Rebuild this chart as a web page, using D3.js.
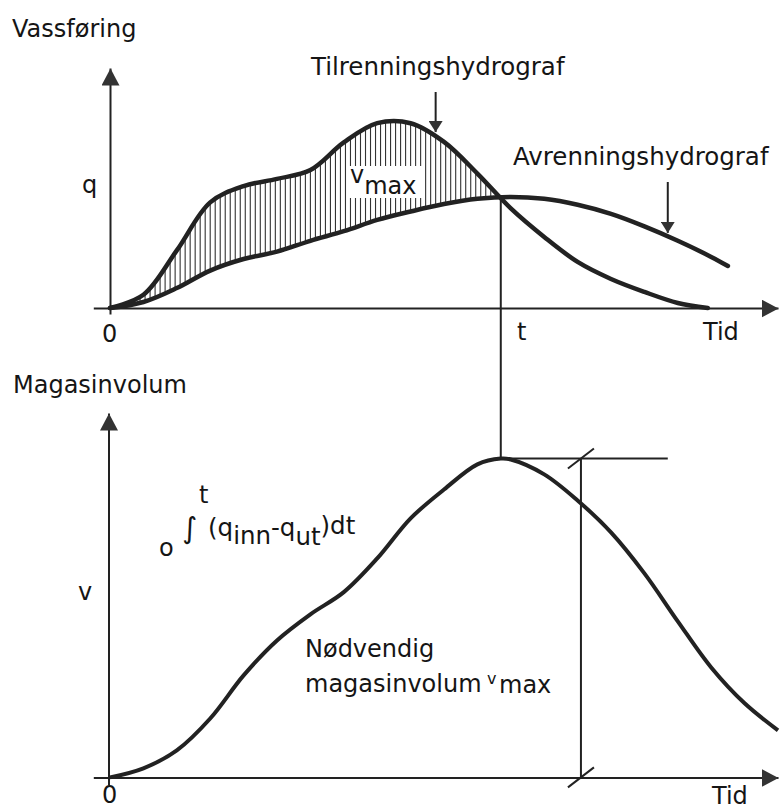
<!DOCTYPE html>
<html>
<head>
<meta charset="utf-8">
<script src="https://cdn.jsdelivr.net/npm/d3@7"></script>
<style>
  body { margin: 0; background: #fff; }
  text { font-family: "DejaVu Sans", sans-serif; fill: #151515; font-size: 24px; }
</style>
</head>
<body>
<div id="chart"></div>
<script>
// time grid (arbitrary units) and readings
var inflowTime = [0, 1, 2, 3, 4, 5, 6, 7, 8, 9, 10, 11, 12, 13, 14, 15, 16, 17, 17.9];
var inflowQ = [0, 0.55, 2.4, 4.4, 5.08, 5.38, 5.75, 6.9, 7.7, 7.7, 6.92, 5.6, 4.15, 2.96, 1.92, 1.21, 0.67, 0.21, 0];

var outflowTime = [0, 1, 2, 3, 4, 5, 6, 7, 8, 9, 10, 11, 12, 13, 14, 15, 16, 17, 18, 18.5];
var outflowQ = [0, 0.25, 0.83, 1.56, 2.04, 2.35, 2.8, 3.2, 3.67, 4.02, 4.33, 4.55, 4.63, 4.55, 4.3, 3.92, 3.4, 2.8, 2.13, 1.75];

var storageTime = [0, 1, 2, 3, 4, 5, 6, 7, 8, 9, 10, 11, 11.7, 12, 13, 14, 15, 16, 17, 18, 19, 20];
var storageV = [0, 0.3, 0.89, 1.94, 3.36, 4.51, 5.37, 6.1, 7.21, 8.53, 9.48, 10.31, 10.5, 10.47, 9.98, 9.12, 8.07, 6.72, 5.14, 3.62, 2.44, 1.55];

var tPeak = 11.7;      // time where inflow = outflow
var vPeak = 10.5;      // required storage
var tDim = 14.1;       // dimension line
var tRef = 16.7;       // end of reference line
var arrowIn = {t: 9.75, from: 9.0, to: 7.33};
var arrowOut = {t: 16.7, from: 5.25, to: 3.13};

var svgWidth = 781;
var svgHeight = 811;

var svg = d3.select("#chart")
  .append("svg")
  .attr("width", svgWidth)
  .attr("height", svgHeight);

var ink = "#222";

// scales
var x = d3.scaleLinear().domain([-0.5, 20]).range([93.3, 778]);
var q = d3.scaleLinear().domain([-0.25, 10]).range([314, 68]);
var v = d3.scaleLinear().domain([-0.25, 12]).range([785, 413]);

var inflow = inflowTime.map((t, i) => ({t: t, y: inflowQ[i]}));
var outflow = outflowTime.map((t, i) => ({t: t, y: outflowQ[i]}));
var storage = storageTime.map((t, i) => ({t: t, y: storageV[i]}));

// markers
var defs = svg.append("defs");
function marker(id, len, wid) {
  defs.append("marker")
    .attr("id", id)
    .attr("viewBox", `0 0 ${len} ${wid}`)
    .attr("refX", len).attr("refY", wid / 2)
    .attr("markerWidth", len).attr("markerHeight", wid)
    .attr("markerUnits", "userSpaceOnUse")
    .attr("orient", "auto")
    .append("path")
    .attr("d", `M0,0L${len},${wid / 2}L0,${wid}Z`)
    .attr("fill", "#333");
}
marker("bigArrow", 17, 18);
marker("smallArrow", 11, 14);

// axes
function drawAxis(g, axis) {
  g.call(axis);
  g.select(".domain")
    .attr("stroke", ink)
    .attr("stroke-width", 2)
    .attr("marker-end", "url(#bigArrow)");
}
drawAxis(svg.append("g").attr("transform", `translate(0, ${q(0)})`),
  d3.axisBottom(x).tickValues([]).tickSizeOuter(0));
drawAxis(svg.append("g").attr("transform", `translate(${x(0)}, 0)`),
  d3.axisLeft(q).tickValues([]).tickSizeOuter(0));
drawAxis(svg.append("g").attr("transform", `translate(0, ${v(0)})`),
  d3.axisBottom(x).tickValues([]).tickSizeOuter(0));
drawAxis(svg.append("g").attr("transform", `translate(${x(0) - 1.5}, 0)`),
  d3.axisLeft(v).tickValues([]).tickSizeOuter(0));

// hatching between the hydrographs
var areaQ = d3.area()
  .x(d => x(d.t)).y0(q(0)).y1(d => q(d.y))
  .curve(d3.curveCatmullRom);

defs.append("clipPath").attr("id", "between")
  .append("path")
  .attr("clip-rule", "evenodd")
  .attr("d", areaQ(inflow) + areaQ(outflow));

svg.append("g")
  .attr("clip-path", "url(#between)")
  .selectAll("line")
  .data(d3.range(0.15, tPeak, 0.15))
  .enter()
  .append("line")
  .attr("x1", d => x(d)).attr("x2", d => x(d))
  .attr("y1", q(0)).attr("y2", q(9))
  .attr("stroke", "#333")
  .attr("stroke-width", 1.1);

// white box behind v_max
svg.append("rect")
  .attr("x", 347).attr("y", 166)
  .attr("width", 75).attr("height", 32)
  .attr("fill", "#fff");

// curves
var lineQ = d3.line().x(d => x(d.t)).y(d => q(d.y)).curve(d3.curveCatmullRom);
var lineV = d3.line().x(d => x(d.t)).y(d => v(d.y)).curve(d3.curveCatmullRom);

[inflow, outflow].forEach(function(s) {
  svg.append("path")
    .attr("d", lineQ(s))
    .attr("fill", "none")
    .attr("stroke", ink)
    .attr("stroke-width", 4.5)
    .attr("stroke-linecap", "round");
});

svg.append("path")
  .attr("d", lineV(storage))
  .attr("fill", "none")
  .attr("stroke", ink)
  .attr("stroke-width", 4);

// construction lines
svg.append("line")
  .attr("x1", x(tPeak)).attr("x2", x(tPeak))
  .attr("y1", q(4.63)).attr("y2", v(vPeak))
  .attr("stroke", ink).attr("stroke-width", 2);

svg.append("line")
  .attr("x1", x(tPeak)).attr("x2", x(tRef))
  .attr("y1", v(vPeak)).attr("y2", v(vPeak))
  .attr("stroke", ink).attr("stroke-width", 2);

svg.append("line")
  .attr("x1", x(tDim)).attr("x2", x(tDim))
  .attr("y1", v(vPeak)).attr("y2", v(0))
  .attr("stroke", ink).attr("stroke-width", 2);

[vPeak, 0].forEach(function(val) {
  svg.append("line")
    .attr("x1", x(tDim) - 13).attr("y1", v(val) + 10)
    .attr("x2", x(tDim) + 13).attr("y2", v(val) - 10)
    .attr("stroke", ink).attr("stroke-width", 2);
});

// label arrows
[arrowIn, arrowOut].forEach(function(a) {
  svg.append("line")
    .attr("x1", x(a.t)).attr("x2", x(a.t))
    .attr("y1", q(a.from)).attr("y2", q(a.to))
    .attr("stroke", ink).attr("stroke-width", 2)
    .attr("marker-end", "url(#smallArrow)");
});

// texts
function label(txt, px, py, size) {
  var t = svg.append("text").attr("x", px).attr("y", py).text(txt);
  if (size) t.style("font-size", size + "px");
  return t;
}
label("Vassføring", 12, 37);
label("Tilrenningshydrograf", 311, 75).style("font-size", "24.5px");
label("Avrenningshydrograf", 513, 165).style("font-size", "24.5px");
label("q", 82, 193);
label("0", 102, 342);
label("t", 517, 340);
label("Tid", 703, 340);
label("Magasinvolum", 13, 393);
label("v", 78, 600);
label("0", 102, 803);
label("Tid", 712, 804);
label("Nødvendig", 305, 657);
label("magasinvolum", 305, 692);
label("v", 487, 684, 16);
label("max", 499, 693);

// v_max in the hatched area
var vm = svg.append("text").attr("x", 350).attr("y", 194);
vm.append("tspan").attr("dy", -11).text("v");
vm.append("tspan").attr("dy", 11).text("max");

// integral expression
label("t", 199, 503);
label("o", 159, 556);
label("\u222B", 182, 538, 29);
var integ = svg.append("text").attr("x", 208).attr("y", 536).style("font-size", "24.5px");
integ.append("tspan").text("(q");
integ.append("tspan").attr("dy", 8).text("inn");
integ.append("tspan").attr("dy", -8).text("-q");
integ.append("tspan").attr("dy", 9).text("ut");
integ.append("tspan").attr("dy", -11).text(")dt");
</script>
</body>
</html>
